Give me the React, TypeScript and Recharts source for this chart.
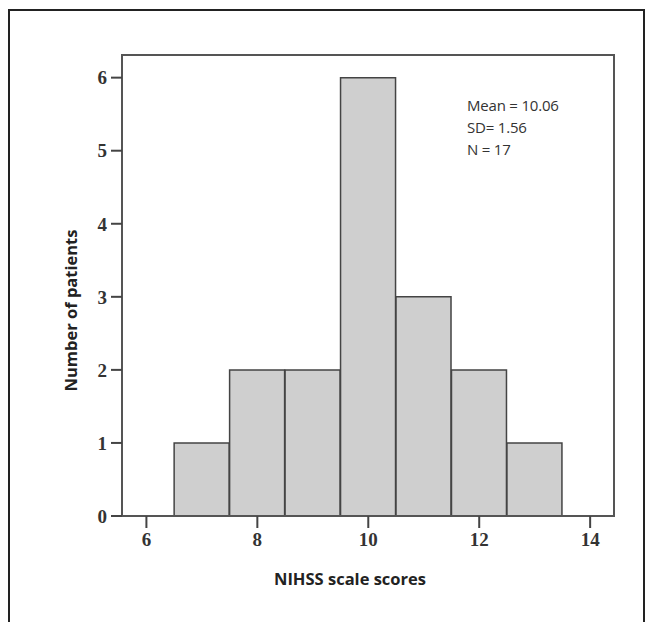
import { ComposedChart, Bar, XAxis, YAxis, ReferenceArea } from 'recharts'

// NIHSS histogram, one bin per score
const scores = [7, 8, 9, 10, 11, 12, 13]
const patients = [1, 2, 2, 6, 3, 2, 1]
const xTicks = [6, 8, 10, 12, 14]
const yTicks = [0, 1, 2, 3, 4, 5, 6]
const statLines = ['Mean = 10.06', 'SD= 1.56', 'N = 17']

const data = scores.map((score, i) => ({ score, count: patients[i] }))

const xDomain = [5.56, 14.43]
const yDomain = [0, 6.31]

const tickStyle = { fill: '#333', fontSize: 19, fontFamily: 'Liberation Serif', fontWeight: 'bold' as const }
const titleFont = { fontFamily: 'Open Sans', fontWeight: 700, fontSize: 16.5, fill: '#222' }

const YTitle = ({ viewBox }: any) => {
      const x = viewBox.x + 8
      const y = viewBox.y + viewBox.height / 2 + 25
      return (
            <text x={x} y={y} transform={`rotate(-90, ${x}, ${y})`} textAnchor="middle" dominantBaseline="central" {...titleFont}>
                  Number of patients
            </text>
      )
}

const XTitle = ({ viewBox }: any) => {
      const x = viewBox.x + viewBox.width / 2 - 18
      const y = viewBox.y + 62
      return (
            <text x={x} y={y} textAnchor="middle" dominantBaseline="central" {...titleFont}>
                  NIHSS scale scores
            </text>
      )
}

export default function App() {
      return (
            <div style={{ position: 'relative', width: 638, height: 614 }}>
                  <div
                        style={{
                              position: 'absolute',
                              left: 0,
                              top: 1,
                              width: 637,
                              height: 613,
                              boxSizing: 'border-box',
                              border: '2px solid #222',
                              borderBottom: 'none'
                        }}
                  />
                  <div style={{ position: 'absolute', left: 0, top: 0 }}>
                        <ComposedChart
                              width={638}
                              height={614}
                              data={data}
                              barCategoryGap={0}
                              barGap={0}
                              margin={{ top: 47, right: 32, left: 54, bottom: 46 }}
                        >
                              <ReferenceArea
                                    x1={xDomain[0]}
                                    x2={xDomain[1]}
                                    y1={yDomain[0]}
                                    y2={yDomain[1]}
                                    fill="#fff"
                                    fillOpacity={0}
                                    stroke="#555"
                                    strokeWidth={2}
                                    ifOverflow="visible"
                              />
                              <XAxis
                                    dataKey="score"
                                    type="number"
                                    domain={xDomain}
                                    ticks={xTicks}
                                    allowDataOverflow
                                    height={60}
                                    tickSize={12}
                                    tickMargin={5}
                                    tick={tickStyle}
                                    axisLine={{ stroke: '#555', strokeWidth: 2 }}
                                    tickLine={{ stroke: '#444', strokeWidth: 2 }}
                                    label={<XTitle />}
                              />
                              <YAxis
                                    type="number"
                                    domain={yDomain}
                                    ticks={yTicks}
                                    allowDataOverflow
                                    width={60}
                                    tickSize={11}
                                    tickMargin={4}
                                    tick={tickStyle}
                                    axisLine={{ stroke: '#555', strokeWidth: 2 }}
                                    tickLine={{ stroke: '#444', strokeWidth: 2 }}
                                    label={<YTitle />}
                              />
                              <Bar dataKey="count" fill="#cfcfcf" stroke="#444" strokeWidth={1.5} isAnimationActive={false} />
                        </ComposedChart>
                  </div>
                  <div
                        style={{
                              position: 'absolute',
                              left: 459,
                              top: 86,
                              fontFamily: 'Open Sans',
                              fontSize: 15,
                              lineHeight: '22px',
                              letterSpacing: '-0.2px',
                              color: '#333'
                        }}
                  >
                        {statLines.map((line) => (
                              <div key={line}>{line}</div>
                        ))}
                  </div>
            </div>
      )
}
